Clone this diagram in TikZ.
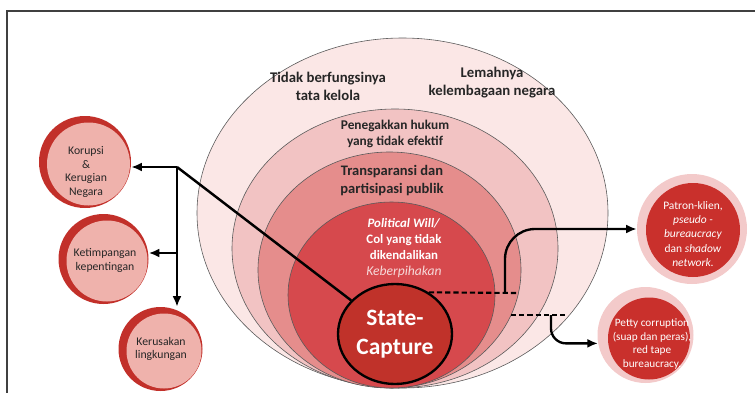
\documentclass[tikz,border=0pt]{standalone}
\usepackage{fontspec}
\setmainfont{Carlito}
\usetikzlibrary{shapes.geometric,arrows.meta}

\definecolor{layone}{HTML}{FBE7E6}
\definecolor{laytwo}{HTML}{F2C3C3}
\definecolor{laythree}{HTML}{E58D8C}
\definecolor{layfour}{HTML}{D6494D}
\definecolor{capred}{HTML}{C0322A}
\definecolor{ringred}{HTML}{C2302A}
\definecolor{ringpink}{HTML}{EFB2AC}
\definecolor{halopink}{HTML}{F3CACA}
\definecolor{ballred}{HTML}{C9302C}
\definecolor{txtdark}{HTML}{262626}
\definecolor{keberpink}{HTML}{F6D9D9}

\begin{document}
\begin{tikzpicture}[x=0.03cm,y=-0.03cm,
  layer/.style={draw=black!65,line width=0.5pt},
  laytext/.style={text=txtdark,align=center,font=\bfseries\fontsize{#1}{15.3}\selectfont},
  ring/.style={circle,fill=ringred,inner sep=0pt,minimum size={0.06cm*#1},
    path picture={\fill[ringpink] ([shift={(3.5,2)}]path picture bounding box.center) circle ({#1-4.5});}},
  ringtext/.style={text=txtdark,align=center,font=\fontsize{10}{11.6}\selectfont},
  halo/.style={circle,fill=halopink,inner sep=0pt,minimum size={0.06cm*#1}},
  redball/.style={circle,fill=ballred,inner sep=0pt,minimum size={0.06cm*#1}},
  balltext/.style={text=white,align=center,font=\fontsize{9.8}{12.2}\selectfont},
  link/.style={line width=2.1pt},
  arrow/.style={line width=2pt,-{Latex[length=9pt,width=7.5pt]}},
  dashlink/.style={line width=1.8pt,dash pattern=on 4.5pt off 2.5pt}]

\clip (0,0) rectangle (755,393);

% frame
\draw[black!75,line width=1.3pt] (7,11) rectangle (790,430);

% nested layers, outer to inner
\draw[layer,fill=layone] (402.5,213) ellipse [x radius=205.5,y radius=175];
\draw[layer,fill=laytwo] (395,248.5) ellipse [x radius=163,y radius=139.5];
\draw[layer,fill=laythree] (389.5,270) ellipse [x radius=131.5,y radius=118];
\draw[layer,fill=layfour] (391.5,295) ellipse [x radius=103.5,y radius=93];

\node[laytext=12.6] (tidak) at (328,86) {Tidak berfungsinya\\tata kelola};
\node[laytext=12.6] (lemah) at (492,82.5) {Lemahnya\\kelembagaan negara};
\node[text=txtdark,align=center,font=\bfseries\fontsize{11.4}{13.6}\selectfont] (penegak) at (395,134) {Penegakkan hukum\\yang tidak efektif};
\node[laytext=12.4] (transp) at (392,181) {Transparansi dan\\partisipasi publik};
\node[text=white,align=center,font=\bfseries\fontsize{11}{13.8}\selectfont] (polwill) at (404,248)
  {\textit{Political Will/}\\Col yang tidak\\dikendalikan\\{\mdseries\fontsize{11.6}{13.8}\selectfont\itshape\color{keberpink}Keberpihakan}};

\node[ellipse,draw=black,line width=2pt,fill=capred,minimum width=3.42cm,minimum height=3cm,inner sep=0pt,
  text=white,align=center,font=\bfseries\fontsize{20}{24.5}\selectfont] (state) at (395,334) {State-\\Capture};

% consequences, left
\node[ring=46] (korupsi) at (85,162) {};
\node[ringtext] (korupsilbl) at (86,172) {Korupsi\\\&\\Kerugian\\Negara};
\node[ring=45] (ketimpangan) at (103.5,259) {};
\node[ringtext] (ketimpanganlbl) at (105,260.5) {Ketimpangan\\kepentingan};
\node[ring=42] (kerusakan) at (160.5,349) {};
\node[ringtext] (kerusakanlbl) at (161,349) {Kerusakan\\lingkungan};

\coordinate (jct) at (177,167);
\coordinate (jcttwo) at (177,253);
\draw[link] (state) -- (jct);
\draw[arrow] (jct) -- (jct -| korupsi.east);
\draw[arrow] (jcttwo) -- (jcttwo -| ketimpangan.east);
\draw[arrow] (jct) -- (jct |- kerusakan.north);

% forms, right
\node[halo=55] (patronhalo) at (692,229) {};
\node[redball=47] (patron) at (693,230) {};
\node[balltext] (patronlbl) at (693,234) {Patron-klien,\\\textit{pseudo -}\\\textit{bureaucracy}\\dan \textit{shadow}\\\textit{network.}};
\node[halo=48] (pettyhalo) at (645.5,335) {};
\node[redball=41] (petty) at (649,338.5) {};
\node[balltext,font=\fontsize{9.6}{11.9}\selectfont] (pettylbl) at (652,344) {Petty corruption\\(suap dan peras),\\red tape\\bureaucracy.};

\coordinate (dashone) at (518.5,293);
\coordinate (bendone) at (505,293);
\coordinate (dashtwoa) at (511,315);
\coordinate (dashtwob) at (568,315);
\coordinate (bendtwo) at (551,315);
\draw[dashlink] (state.51) -- (dashone);
\draw[arrow,rounded corners=0.9cm] (bendone) |- (patronhalo.west);
\draw[dashlink] (dashtwoa) -- (dashtwob);
\draw[arrow,rounded corners=0.45cm] (bendtwo) |- (pettyhalo.190);

\end{tikzpicture}
\end{document}
